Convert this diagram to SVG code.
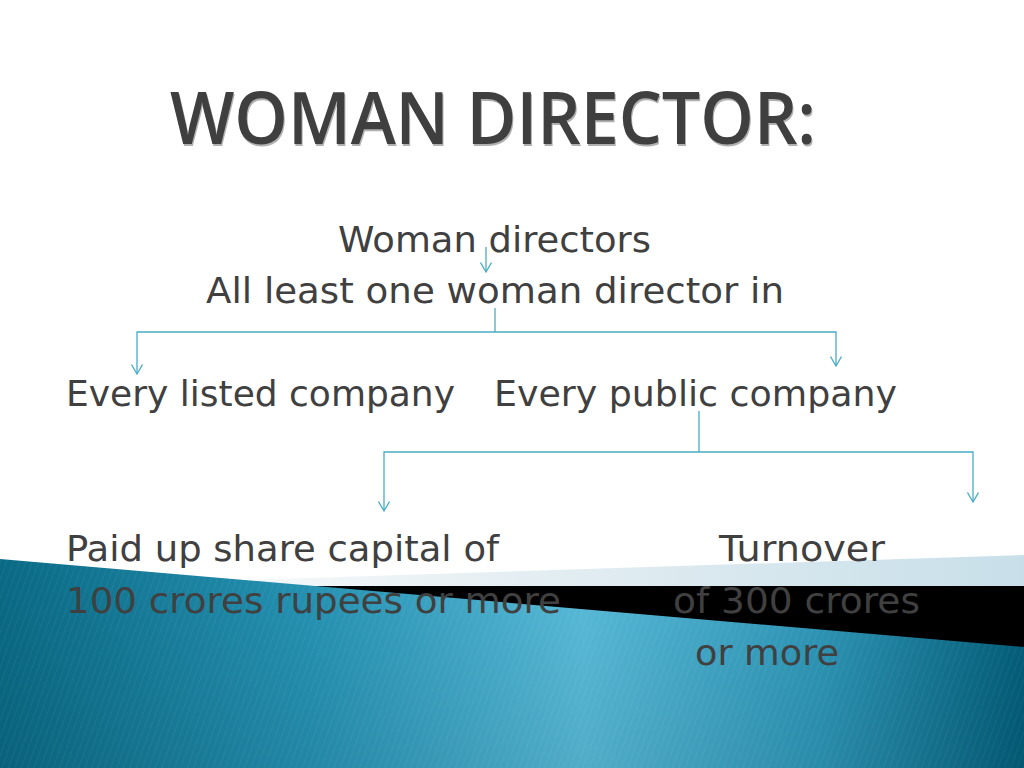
<svg xmlns="http://www.w3.org/2000/svg" width="1024" height="768" viewBox="0 0 1024 768">
  <style>
    .t { font-family: "DejaVu Sans", "Noto Sans", sans-serif; font-size: 35px; fill: #404040; }
    .title { font-family: "Open Sans", "Noto Sans", sans-serif; font-size: 73px; font-weight: 600; fill: #3f3f3f; }
    .conn { fill: none; stroke: #4bacc6; stroke-width: 1.3; }
  </style>
  <defs>
    <marker id="arr" markerWidth="12" markerHeight="12" viewBox="0 0 10 12" refX="9.5" refY="6" orient="auto" markerUnits="userSpaceOnUse">
      <path d="M0,0.5 L9.5,6 L0,11.5" fill="none" stroke="#4bacc6" stroke-width="1.3"/>
    </marker>
    <linearGradient id="blue" x1="0" y1="0" x2="1" y2="0">
      <stop offset="0" stop-color="#0a6a85"/>
      <stop offset="0.3" stop-color="#2592b3"/>
      <stop offset="0.57" stop-color="#58bbd9"/>
      <stop offset="0.8" stop-color="#2e97b8"/>
      <stop offset="1" stop-color="#035f7b"/>
    </linearGradient>
    <linearGradient id="shade" x1="0" y1="0" x2="0" y2="1">
      <stop offset="0" stop-color="#000000" stop-opacity="0"/>
      <stop offset="1" stop-color="#000000" stop-opacity="0.08"/>
    </linearGradient>
    <linearGradient id="light" x1="0" y1="0" x2="1" y2="0">
      <stop offset="0" stop-color="#ffffff"/>
      <stop offset="0.45" stop-color="#e6eff3"/>
      <stop offset="1" stop-color="#c8dfe9"/>
    </linearGradient>
    <pattern id="stripes" width="6" height="6" patternUnits="userSpaceOnUse" patternTransform="rotate(20)">
      <line x1="0" y1="0" x2="0" y2="6" stroke="#ffffff" stroke-opacity="0.05" stroke-width="2"/>
    </pattern>
  </defs>

  <rect width="1024" height="768" fill="#ffffff"/>

  <g id="background">
    <polygon points="60,586 1024,555 1024,586" fill="url(#light)"/>
    <polygon points="300,586 1024,586 1024,648" fill="#000000"/>
    <polygon points="0,559 1024,647 1024,768 0,768" fill="url(#blue)"/>
    <polygon points="0,559 1024,647 1024,768 0,768" fill="url(#shade)"/>
    <polygon points="0,559 1024,647 1024,768 0,768" fill="url(#stripes)"/>
  </g>

  <g id="title">
    <text class="title" x="171" y="146" textLength="646" lengthAdjust="spacingAndGlyphs" style="fill:#b0b0b0">WOMAN DIRECTOR:</text>
    <text class="title" x="170" y="144" textLength="646" lengthAdjust="spacingAndGlyphs">WOMAN DIRECTOR:</text>
  </g>

  <g id="connectors">
    <path class="conn" d="M486,247 V272" marker-end="url(#arr)"/>
    <path class="conn" d="M495,308 V332"/>
    <path class="conn" d="M495,332 H137 V374" marker-end="url(#arr)"/>
    <path class="conn" d="M495,332 H836 V366" marker-end="url(#arr)"/>
    <path class="conn" d="M699,411 V452"/>
    <path class="conn" d="M699,452 H384 V511" marker-end="url(#arr)"/>
    <path class="conn" d="M699,452 H973 V502" marker-end="url(#arr)"/>
  </g>

  <g id="node-woman-directors">
    <text class="t" x="338" y="252" textLength="313" lengthAdjust="spacingAndGlyphs">Woman directors</text>
  </g>
  <g id="node-at-least-one">
    <text class="t" x="206" y="303" textLength="578" lengthAdjust="spacingAndGlyphs">All least one woman director in</text>
  </g>
  <g id="node-listed">
    <text class="t" x="66" y="406" textLength="389" lengthAdjust="spacingAndGlyphs">Every listed company</text>
  </g>
  <g id="node-public">
    <text class="t" x="494" y="406" textLength="403" lengthAdjust="spacingAndGlyphs">Every public company</text>
  </g>
  <g id="node-paid-up">
    <text class="t" x="66" y="561" textLength="433" lengthAdjust="spacingAndGlyphs">Paid up share capital of</text>
    <text class="t" x="66" y="613" textLength="495" lengthAdjust="spacingAndGlyphs">100 crores rupees or more</text>
  </g>
  <g id="node-turnover">
    <text class="t" x="719" y="561" textLength="166" lengthAdjust="spacingAndGlyphs">Turnover</text>
    <text class="t" x="673" y="613" textLength="247" lengthAdjust="spacingAndGlyphs">of 300 crores</text>
    <text class="t" x="695" y="665" textLength="144" lengthAdjust="spacingAndGlyphs">or more</text>
  </g>
</svg>
